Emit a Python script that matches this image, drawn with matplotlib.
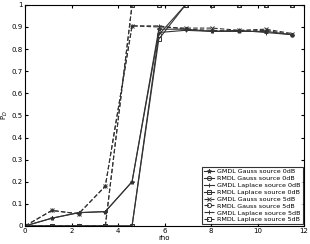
import matplotlib
matplotlib.use("Agg")
import matplotlib.pyplot as plt

rho = [0, 1.15, 2.3, 3.45, 4.6, 5.75, 6.9, 8.05, 9.2, 10.35, 11.5]

gmdl_gauss_0 = [0, 0.035, 0.06, 0.065, 0.2, 0.89, 0.89, 0.88, 0.88, 0.88, 0.865]
rmdl_gauss_0 = [0, 0, 0, 0, 0, 0.865, 1, 1, 1, 1, 1]
gmdl_lap_0 = [0, 0.035, 0.06, 0.065, 0.2, 0.875, 0.885, 0.88, 0.885, 0.875, 0.865]
rmdl_lap_0 = [0, 0, 0, 0, 0, 0.845, 1, 1, 1, 1, 1]
gmdl_gauss_5 = [0, 0.07, 0.055, 0.18, 0.905, 0.9, 0.895, 0.895, 0.885, 0.89, 0.87]
rmdl_gauss_5 = [0, 0, 0, 0, 1, 1, 1, 1, 1, 1, 1]
gmdl_lap_5 = [0, 0.07, 0.055, 0.18, 0.905, 0.905, 0.89, 0.885, 0.88, 0.885, 0.865]
rmdl_lap_5 = [0, 0, 0, 0, 1, 1, 1, 1, 1, 1, 1]

series = [
    (gmdl_gauss_0, '-', '*', 'GMDL Gauss source 0dB'),
    (rmdl_gauss_0, '-', 'o', 'RMDL Gauss source 0dB'),
    (gmdl_lap_0, '-', '+', 'GMDL Laplace source 0dB'),
    (rmdl_lap_0, '-', 's', 'RMDL Laplace source 0dB'),
    (gmdl_gauss_5, '--', 'x', 'GMDL Gauss source 5dB'),
    (rmdl_gauss_5, '--', 'o', 'RMDL Gauss source 5dB'),
    (gmdl_lap_5, '--', '+', 'GMDL Laplace source 5dB'),
    (rmdl_lap_5, '--', 's', 'RMDL Laplace source 5dB'),
]

fig = plt.figure(figsize=(3.1, 2.44), dpi=100)
ax = fig.add_axes([0.081, 0.074, 0.9, 0.906])

for vals, ls, mk, lab in series:
    ax.plot(rho, vals, linestyle=ls, dashes=(4, 2) if ls == '--' else (None, None),
            marker=mk, color='#333333', linewidth=0.8,
            markersize=3, markerfacecolor='none', markeredgewidth=0.7, label=lab)

ax.set_xlim(0, 12)
ax.set_ylim(0, 1)
ax.set_xticks([0, 2, 4, 6, 8, 10, 12])
ax.set_yticks([0, 0.1, 0.2, 0.3, 0.4, 0.5, 0.6, 0.7, 0.8, 0.9, 1])
ax.set_yticklabels(['0', '0.1', '0.2', '0.3', '0.4', '0.5', '0.6', '0.7', '0.8', '0.9', '1'])
ax.tick_params(direction='in', length=2, labelsize=5, top=True, right=True, pad=1.5)
ax.set_xlabel('rho', fontsize=5, labelpad=1)
ax.set_ylabel(r'P$_D$', fontsize=5, labelpad=1)
for s in ax.spines.values():
    s.set_linewidth(0.8)

leg = ax.legend(loc='lower right', fontsize=4.6, frameon=True, fancybox=False,
                edgecolor='black', handlelength=1.6, borderpad=0.3, labelspacing=0.22,
                handletextpad=0.5, borderaxespad=0.25)
leg.get_frame().set_linewidth(0.8)

fig.savefig('out.png', dpi=100)
